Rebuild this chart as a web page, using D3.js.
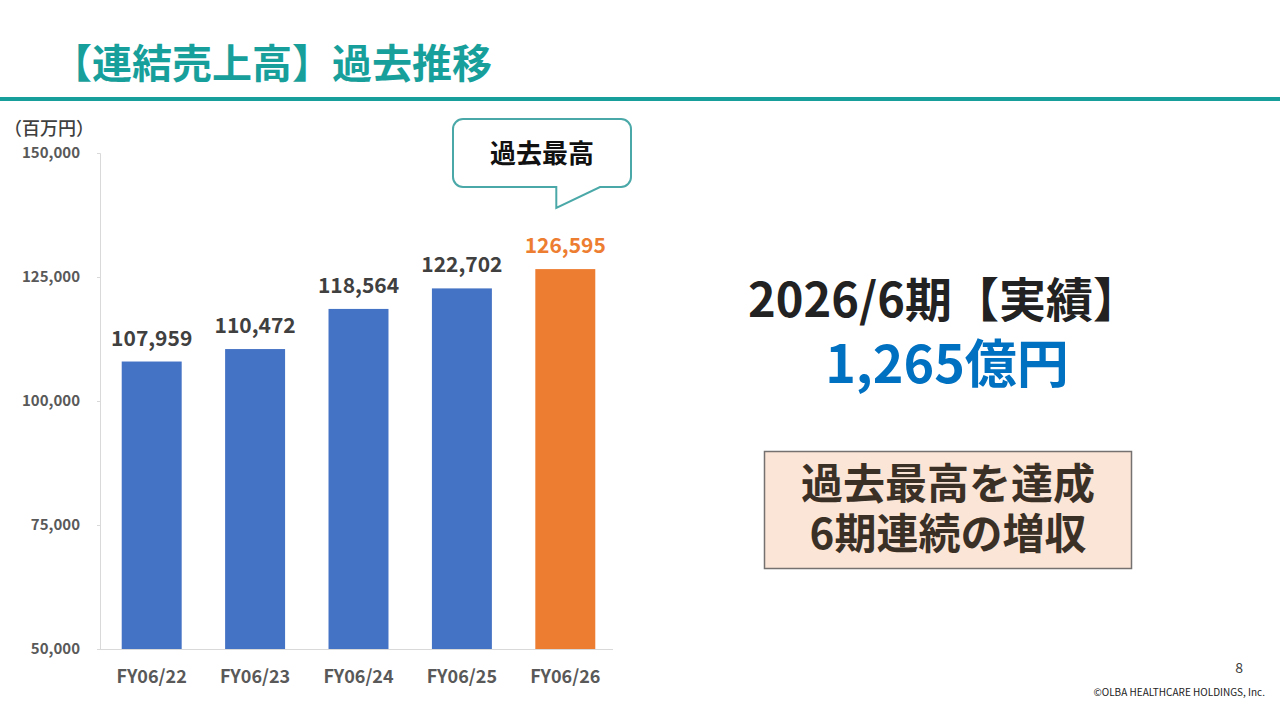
<!DOCTYPE html>
<html>
<head>
<meta charset="utf-8">
<script src="https://cdn.jsdelivr.net/npm/d3@7"></script>
<style>
  body { margin: 0; background: #fff; }
  svg { display: block; font-family: "Noto Sans CJK JP", "Noto Sans", sans-serif; }
</style>
</head>
<body>
<div id="chart"></div>
<script>
// --> DATA
var years = ["FY06/22", "FY06/23", "FY06/24", "FY06/25", "FY06/26"];
var sales = [107959, 110472, 118564, 122702, 126595];
var yTicks = [50000, 75000, 100000, 125000, 150000];

var width = 1280,
    height = 720;

var svg = d3.select("#chart").append("svg")
    .attr("width", width)
    .attr("height", height);

var teal = "#17a09b";

// title + rule
svg.append("text")
    .attr("x", 52).attr("y", 78)
    .attr("font-size", 40).attr("font-weight", 700)
    .attr("fill", teal)
    .text("【連結売上高】過去推移");

svg.append("rect")
    .attr("x", 0).attr("y", 97)
    .attr("width", width).attr("height", 4)
    .attr("fill", teal);

// --> SCALES
var x = d3.scaleBand()
    .domain(years)
    .range([100, 617])
    .paddingInner(0.42)
    .paddingOuter(0.21);

var y = d3.scaleLinear()
    .domain([50000, 150000])
    .range([649, 153]);

// axes
var yAxis = svg.append("g")
    .attr("transform", "translate(100,0)")
    .call(d3.axisLeft(y).tickValues(yTicks).tickSize(3).tickPadding(17).tickFormat(d3.format(",")));
yAxis.select(".domain").attr("stroke", "#d9d9d9");
yAxis.selectAll(".tick line").attr("stroke", "#d9d9d9");
yAxis.selectAll(".tick text")
    .attr("font-size", 15).attr("font-weight", 700)
    .attr("fill", "#595959")
    .attr("font-family", "\"Noto Sans CJK JP\", sans-serif");

var xAxis = svg.append("g")
    .attr("transform", "translate(0,649)")
    .call(d3.axisBottom(x).tickSize(0).tickPadding(21));
xAxis.select(".domain").attr("stroke", "#d9d9d9").attr("d", "M100,0.5H613");
xAxis.selectAll(".tick text")
    .attr("font-size", 18).attr("font-weight", 700)
    .attr("fill", "#595959")
    .attr("font-family", "\"Noto Sans CJK JP\", sans-serif");

svg.append("text")
    .attr("x", 4).attr("y", 135)
    .attr("font-size", 18).attr("font-weight", 500)
    .attr("fill", "#404040")
    .text("（百万円）");

// bars
var last = years.length - 1;
svg.append("g").selectAll("rect")
    .data(sales)
    .enter().append("rect")
    .attr("x", function(d, i) { return x(years[i]); })
    .attr("y", function(d) { return y(d); })
    .attr("width", x.bandwidth())
    .attr("height", function(d) { return y(50000) - y(d); })
    .attr("fill", function(d, i) { return i == last ? "#ed7d31" : "#4472c4"; });

svg.append("g").selectAll("text")
    .data(sales)
    .enter().append("text")
    .attr("x", function(d, i) { return x(years[i]) + x.bandwidth() / 2; })
    .attr("y", function(d) { return y(d) - 16; })
    .attr("text-anchor", "middle")
    .attr("font-size", 21).attr("font-weight", 700)
    .attr("fill", function(d, i) { return i == last ? "#ed7d31" : "#404040"; })
    .text(function(d) { return d3.format(",")(d); });

// speech bubble over the last bar
var bx = 453, by = 119, bw = 178, bh = 68, r = 10;
var tipX = x(years[last]) + x.bandwidth() / 2 - 9;
var bubble = d3.path();
bubble.moveTo(bx + r, by);
bubble.lineTo(bx + bw - r, by);
bubble.arcTo(bx + bw, by, bx + bw, by + r, r);
bubble.lineTo(bx + bw, by + bh - r);
bubble.arcTo(bx + bw, by + bh, bx + bw - r, by + bh, r);
bubble.lineTo(600, by + bh);
bubble.lineTo(tipX, 208);
bubble.lineTo(tipX, by + bh);
bubble.lineTo(bx + r, by + bh);
bubble.arcTo(bx, by + bh, bx, by + bh - r, r);
bubble.lineTo(bx, by + r);
bubble.arcTo(bx, by, bx + r, by, r);
bubble.closePath();
svg.append("path")
    .attr("d", bubble.toString())
    .attr("fill", "#fff")
    .attr("stroke", "#4aa9a8")
    .attr("stroke-width", 2);
svg.append("text")
    .attr("x", bx + bw / 2).attr("y", 163)
    .attr("text-anchor", "middle")
    .attr("font-size", 26).attr("font-weight", 700)
    .attr("fill", "#111")
    .text("過去最高");

// right side summary
svg.append("text")
    .attr("x", 944).attr("y", 317)
    .attr("text-anchor", "middle")
    .attr("font-size", 47).attr("font-weight", 700)
    .attr("fill", "#222")
    .text("2026/6期【実績】");

svg.append("text")
    .attr("x", 947).attr("y", 383)
    .attr("text-anchor", "middle")
    .attr("font-size", 52).attr("font-weight", 700)
    .attr("fill", "#0070c0")
    .text("1,265億円");

svg.append("rect")
    .attr("x", 764.5).attr("y", 451.5)
    .attr("width", 367).attr("height", 117)
    .attr("fill", "#fbe5d6")
    .attr("stroke", "#767171")
    .attr("stroke-width", 1.5);

var boxLines = ["過去最高を達成", "6期連続の増収"];
svg.append("g").selectAll("text")
    .data(boxLines)
    .enter().append("text")
    .attr("x", 948)
    .attr("y", function(d, i) { return 499 + i * 50; })
    .attr("text-anchor", "middle")
    .attr("font-size", 42).attr("font-weight", 700)
    .attr("fill", "#3b3026")
    .text(function(d) { return d; });

// footer
svg.append("text")
    .attr("x", 1243).attr("y", 673)
    .attr("text-anchor", "end")
    .attr("font-size", 14)
    .attr("fill", "#404040")
    .text("8");
svg.append("text")
    .attr("x", 1265).attr("y", 696)
    .attr("text-anchor", "end")
    .attr("font-size", 10)
    .attr("fill", "#222")
    .text("©OLBA HEALTHCARE HOLDINGS, Inc.");
</script>
</body>
</html>
